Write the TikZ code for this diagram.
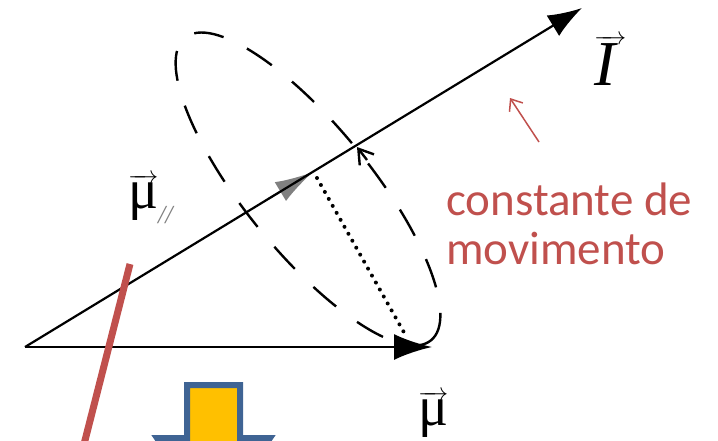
\documentclass[tikz,border=0pt]{standalone}
\usepackage{fontspec}
\setmainfont{Liberation Serif}
\newfontfamily\carlito{Carlito}
\usetikzlibrary{arrows.meta}
\definecolor{myred}{HTML}{C0504D}
\definecolor{arrowfill}{HTML}{FFC000}
\definecolor{arrowline}{HTML}{3F6494}
\tikzset{
  vecline/.style={line width=2.2pt},
  dashellipse/.style={line width=2.4pt, dash pattern=on 30pt off 26pt},
  dotline/.style={line width=4pt, line cap=round, dash pattern=on 0pt off 8pt},
  lbl/.style={anchor=base west, inner sep=0pt}
}
\begin{document}
\begin{tikzpicture}[x=1pt,y=-1pt]
\useasboundingbox (0,0) rectangle (718,440);
\clip (0,0) rectangle (718,440);
\coordinate (O) at (25,347);
\coordinate (M) at (432,347);
\coordinate (I) at (582,8);
\coordinate (G0) at (268,199);
\coordinate (G) at (313,172);
\coordinate (P) at (317,178);
\coordinate (Q) at (406,336);
\coordinate (E0) at (367,160);
\coordinate (E1) at (357,147);
\coordinate (R0) at (130,264);
\coordinate (R1) at (80,460);
\coordinate (S0) at (539,142);
\coordinate (S1) at (510,98);
% precession ellipse
\draw[dashellipse, shift={(308,189)}, rotate=-50.9] (0,0) ellipse [x radius=195pt, y radius=63pt];
\draw[line width=2.4pt, -{Straight Barb[length=14pt,width=18pt]}] (E0) -- (E1);
% gray arrowhead of mu parallel
\draw[gray, line width=2pt, -{Latex[length=38pt,width=22pt]}] (G0) -- (G);
% vectors
\draw[vecline, line width=2.6pt, -{Latex[length=38pt,width=26pt]}] (O) -- (M);
\draw[vecline, -{Latex[length=34pt,width=24pt]}] (O) -- (I);
\draw[dotline] (P) -- (Q);
% red marks
\draw[myred, line width=7pt] (R0) -- (R1);
\draw[myred, line width=1.5pt, -{Straight Barb[length=10pt,width=16pt]}] (S0) -- (S1);
% block arrow
\draw[arrowline, fill=arrowfill, line width=6pt, line join=miter] (187,385) -- (240,385) -- (240,438) -- (270,438) -- (213.5,520) -- (157,438) -- (187,438) -- cycle;
% labels
\node[lbl] (Ilab) at (594,85) {\fontsize{64}{70}\selectfont$\overrightarrow{\mbox{\itshape I\,}}$};
\node[lbl] (mupar) at (128,208) {\fontsize{56}{60}\selectfont$\overrightarrow{\mbox{μ}}$\raisebox{-15pt}{\fontsize{26}{26}\selectfont\color{gray}\itshape //}};
\node[lbl] (mu) at (418,425) {\fontsize{56}{60}\selectfont$\overrightarrow{\mbox{μ}}$};
\node[lbl, align=left, text=myred, font=\carlito\fontsize{47}{49}\selectfont] (const) at (446,264) {constante de\\movimento};
\end{tikzpicture}
\end{document}
